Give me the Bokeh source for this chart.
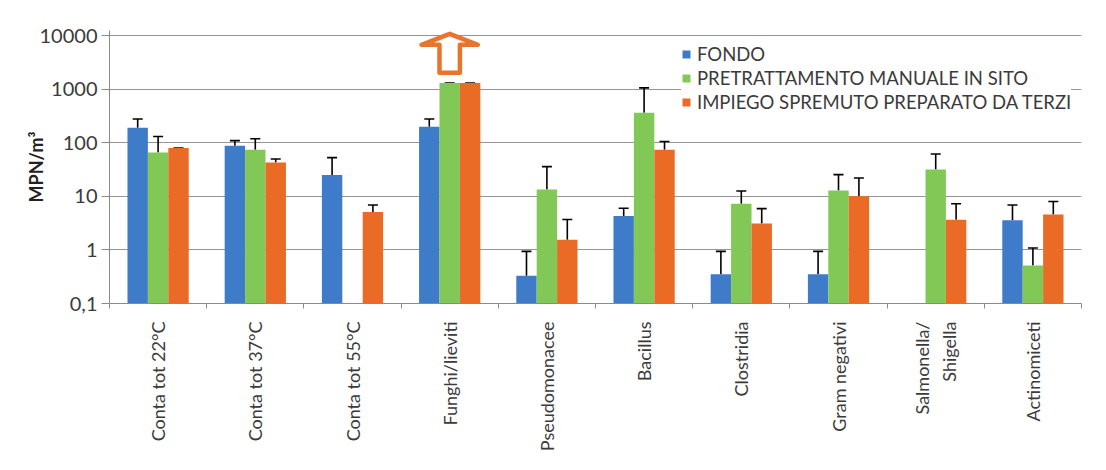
import math
from bokeh.plotting import figure
from bokeh.models import (ColumnDataSource, FixedTicker, Whisker, TeeHead, Legend,
                          LegendItem, Range1d)
from bokeh.embed import file_html
from bokeh.resources import INLINE

categories = ["Conta tot 22°C", "Conta tot 37°C", "Conta tot 55°C", "Funghi/lieviti",
              "Pseudomonacee", "Bacillus", "Clostridia", "Gram negativi",
              "Salmonella/\nShigella", "Actinomiceti"]
series_names = ["FONDO", "PRETRATTAMENTO MANUALE IN SITO", "IMPIEGO SPREMUTO PREPARATO DA TERZI"]
fondo = [192, 88, 25, 200, 0.33, 4.3, 0.35, 0.35, None, 3.6]
fondo_err = [278, 110, 53, 278, 0.94, 6.0, 0.94, 0.94, None, 6.9]
pretratt = [66, 74, None, 1310, 13.5, 365, 7.3, 12.9, 31.6, 0.51]
pretratt_err = [131, 119, None, 1310, 36, 1060, 12.6, 25.5, 62, 1.09]
impiego = [80, 43, 5.1, 1310, 1.55, 74, 3.1, 10.1, 3.65, 4.6]
impiego_err = [80, 50, 6.9, 1310, 3.7, 106, 5.9, 22, 7.3, 8.0]
y_ticks = [0.1, 1, 10, 100, 1000, 10000]
y_tick_labels = ["0,1", "1", "10", "100", "1000", "10000"]

colors = ["#3E7BC9", "#82C856", "#E96B26"]
arrow_color = "#E8742E"
FONT = "Lato"
TXT = "#3b3b3b"

n = len(categories)
centers = [i + 0.5 for i in range(n)]
bw = 0.21
offsets = [-bw, 0.0, bw]

p = figure(width=1090, height=454, output_backend="svg", toolbar_location=None,
           x_range=Range1d(0, n), y_range=Range1d(0.1, 12500), y_axis_type="log",
           min_border_left=109, min_border_right=9, min_border_top=30,
           min_border_bottom=150)
p.outline_line_color = None
p.background_fill_color = "white"
p.border_fill_color = "white"

renderers = []
for vals, errs, off, col in zip([fondo, pretratt, impiego], [fondo_err, pretratt_err, impiego_err],
                                offsets, colors):
    xs = [c + off for c, v in zip(centers, vals) if v is not None]
    tops = [v for v in vals if v is not None]
    ups = [e for v, e in zip(vals, errs) if v is not None]
    src = ColumnDataSource(dict(x=xs, top=tops, up=ups))
    r = p.vbar(x="x", top="top", bottom=0.1, width=bw, source=src, fill_color=col,
               line_color=None)
    renderers.append(r)
    w = Whisker(base="x", lower="top", upper="up", source=src, dimension="height",
                line_color="black", line_width=1.6,
                upper_head=TeeHead(size=10, line_color="black", line_width=1.6),
                lower_head=None)
    p.add_layout(w)

# hollow arrow above Funghi/lieviti (values exceed scale)
ai = categories.index("Funghi/lieviti")
ax = centers[ai]
tip, hb, sb = 10 ** 4.035, 10 ** 3.83, 10 ** 3.31
hw, sw = 0.29, 0.105
p.patch([ax, ax + hw, ax + sw, ax + sw, ax - sw, ax - sw, ax - hw],
        [tip, hb, hb, sb, sb, hb, hb], fill_color="white", line_color=arrow_color,
        line_width=4.5, line_join="round")

# axes
p.yaxis.ticker = FixedTicker(ticks=y_ticks)
p.yaxis.major_label_overrides = {float(t): l for t, l in zip(y_ticks, y_tick_labels)}
p.yaxis.minor_tick_line_color = None
p.yaxis.major_tick_out = 8
p.yaxis.major_tick_in = 0
p.yaxis.axis_line_color = "#8a8a8a"
p.yaxis.major_tick_line_color = "#8a8a8a"
p.yaxis.major_label_text_font = FONT
p.yaxis.major_label_text_font_size = "20px"
p.yaxis.major_label_text_color = TXT
p.yaxis.major_label_standoff = 4
p.yaxis.axis_label = "MPN/m³"
p.yaxis.axis_label_text_font = FONT
p.yaxis.axis_label_text_font_size = "18px"
p.yaxis.axis_label_text_font_style = "bold"
p.yaxis.axis_label_text_color = "#222222"
p.yaxis.axis_label_standoff = -10

p.xaxis.ticker = FixedTicker(ticks=centers, minor_ticks=list(range(n + 1)))
p.xaxis.major_label_overrides = {float(c): l for c, l in zip(centers, categories)}
p.xaxis.major_label_orientation = math.pi / 2
p.xaxis.major_tick_line_color = None
p.xaxis.minor_tick_out = 5
p.xaxis.minor_tick_in = 0
p.xaxis.minor_tick_line_color = "#8a8a8a"
p.xaxis.axis_line_color = "#8a8a8a"
p.xaxis.major_label_text_font = FONT
p.xaxis.major_label_text_font_size = "18px"
p.xaxis.major_label_text_color = TXT
p.xaxis.major_label_standoff = 12

p.xgrid.grid_line_color = None
p.ygrid.grid_line_color = "#9a9494"
p.ygrid.grid_line_width = 1

legend = Legend(items=[LegendItem(label=nm, renderers=[r]) for nm, r in zip(series_names, renderers)],
                location=(572, 189), background_fill_color="white", background_fill_alpha=1.0,
                border_line_color=None, padding=4, spacing=0, label_height=24,
                glyph_width=10, glyph_height=10, label_standoff=6,
                label_text_font=FONT, label_text_font_size="18.5px", label_text_color=TXT)
p.add_layout(legend)

open("out.html", "w").write(file_html(p, INLINE))
